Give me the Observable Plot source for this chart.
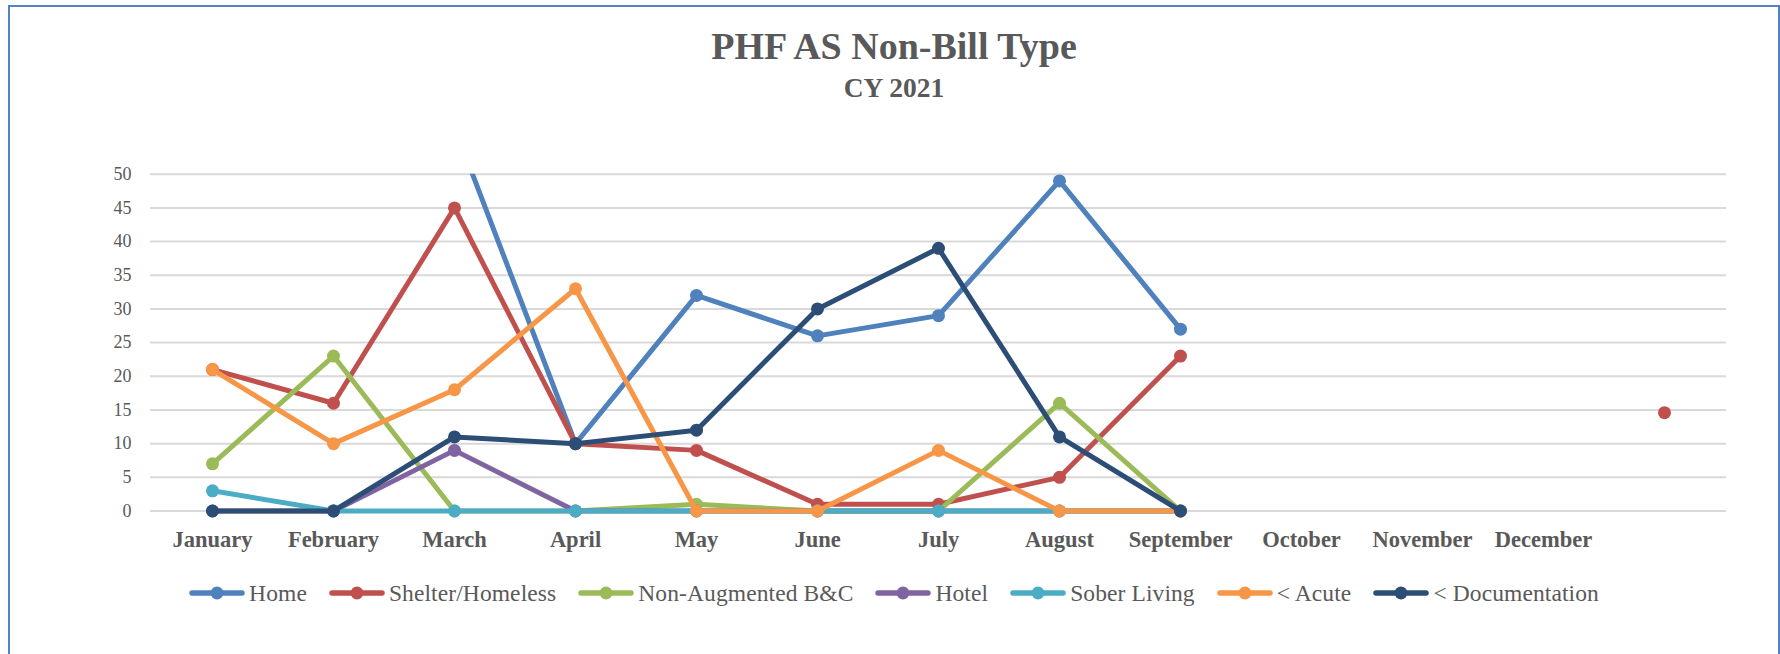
<!DOCTYPE html>
<html>
<head>
<meta charset="utf-8">
<script src="https://cdn.jsdelivr.net/npm/d3@7"></script>
<script src="https://cdn.jsdelivr.net/npm/@observablehq/plot@0.6"></script>
<style>
  html, body { margin: 0; padding: 0; background: #fff; }
  body { width: 1780px; height: 654px; overflow: hidden; position: relative; font-family: "Liberation Serif", serif; }
  #frame { position: absolute; left: 8px; top: 5px; width: 1772px; height: 800px; box-sizing: border-box; border: 2.5px solid #5283C9; }
  #title { position: absolute; left: 8px; width: 1772px; top: 27px; text-align: center; font-family: "Liberation Serif", serif; font-size: 38px; line-height: 38px; font-weight: bold; color: #595959; }
  #subtitle { position: absolute; left: 8px; width: 1772px; top: 74px; text-align: center; font-family: "Liberation Serif", serif; font-size: 27.5px; line-height: 27.5px; font-weight: bold; color: #595959; }
  #chart { position: absolute; left: 0; top: 140px; }
  #chart svg [aria-label^="x-axis"] text { font-size: 22.5px !important; font-weight: bold; fill: #595959; font-family: "Liberation Serif", serif; }
  #chart svg [aria-label^="y-axis"] text { font-size: 18px !important; fill: #595959; font-family: "Liberation Serif", serif; }
  #legend { position: absolute; left: 8px; width: 1772px; top: 579px; height: 28px; display: flex; justify-content: center; align-items: center; gap: 22px; color: #595959; }
  .item { display: flex; align-items: center; gap: 4px; white-space: nowrap; }
  .item span { font-family: "Liberation Serif", serif; font-size: 23.5px; letter-spacing: 0.1px; color: #595959; }
</style>
</head>
<body>
<div id="frame"></div>
<div id="title">PHF AS Non-Bill Type</div>
<div id="subtitle">CY 2021</div>
<div id="chart"></div>
<div id="legend"></div>
<script>
// Categories (13th slot is an unlabeled extra category)
const months = ["January", "February", "March", "April", "May", "June", "July", "August", "September", "October", "November", "December", ""];
const seriesNames = ["Home", "Shelter/Homeless", "Non-Augmented B&C", "Hotel", "Sober Living", "< Acute", "< Documentation"];
const seriesColors = ["#4F81BD", "#C0504D", "#9BBB59", "#8064A2", "#4BACC6", "#F79646", "#2C4D75"];
const yTicks = [0, 5, 10, 15, 20, 25, 30, 35, 40, 45, 50];

// Series values (Jan..Dec, extra); Home Jan–Mar run above the 50 axis limit
const home       = [62, 60, 57, 10, 32, 26, 29, 49, 27, null, null, null, null];
const shelter    = [21, 16, 45, 10, 9, 1, 1, 5, 23, null, null, null, 14.6];
const nonAug     = [7, 23, 0, 0, 1, 0, 0, 16, 0, null, null, null, null];
const hotel      = [0, 0, 9, 0, 0, 0, 0, 0, 0, null, null, null, null];
const soberLiving= [3, 0, 0, 0, 0, 0, 0, 0, 0, null, null, null, null];
const acute      = [21, 10, 18, 33, 0, 0, 9, 0, 0, null, null, null, null];
const documentation = [0, 0, 11, 10, 12, 30, 39, 11, 0, null, null, null, null];

const seriesValues = [home, shelter, nonAug, hotel, soberLiving, acute, documentation];

const rows = [];
seriesNames.forEach((s, i) => {
  months.forEach((m, j) => rows.push({series: s, month: m, value: seriesValues[i][j]}));
});

const marks = [
  Plot.ruleY(yTicks, {stroke: "#D9D9D9", strokeWidth: 2})
];
seriesNames.forEach((s, i) => {
  const data = rows.filter(d => d.series === s);
  const exceeds = data.some(d => d.value != null && d.value > 50);
  marks.push(Plot.line(data, {
    x: "month", y: "value", stroke: seriesColors[i], strokeWidth: 5,
    strokeLinejoin: "round", strokeLinecap: "round", clip: exceeds
  }));
  marks.push(Plot.dot(data.filter(d => d.value != null && d.value <= 50), {
    x: "month", y: "value", r: 6.5, fill: seriesColors[i], stroke: "none"
  }));
});

const chart = Plot.plot({
  width: 1780,
  height: 420,
  marginLeft: 150,
  marginRight: 54,
  marginTop: 33.7,
  marginBottom: 49.5,
  style: {fontFamily: "Liberation Serif, serif", color: "#595959", background: "transparent", overflow: "visible"},
  x: {type: "point", domain: months, padding: 0.5, tickSize: 0, tickPadding: 20, label: null},
  y: {domain: [0, 50], ticks: yTicks, tickSize: 0, tickPadding: 19, label: null},
  marks
});
document.getElementById("chart").appendChild(chart);

// Legend
const legend = document.getElementById("legend");
seriesNames.forEach((s, i) => {
  const item = document.createElement("div");
  item.className = "item";
  item.innerHTML = `<svg width="56" height="16"><line x1="3" y1="8" x2="53" y2="8" stroke="${seriesColors[i]}" stroke-width="5.5" stroke-linecap="round"/><circle cx="28" cy="8" r="6.5" fill="${seriesColors[i]}"/></svg>`;
  const t = document.createElement("span");
  t.textContent = s;
  item.appendChild(t);
  legend.appendChild(item);
});
</script>
</body>
</html>
